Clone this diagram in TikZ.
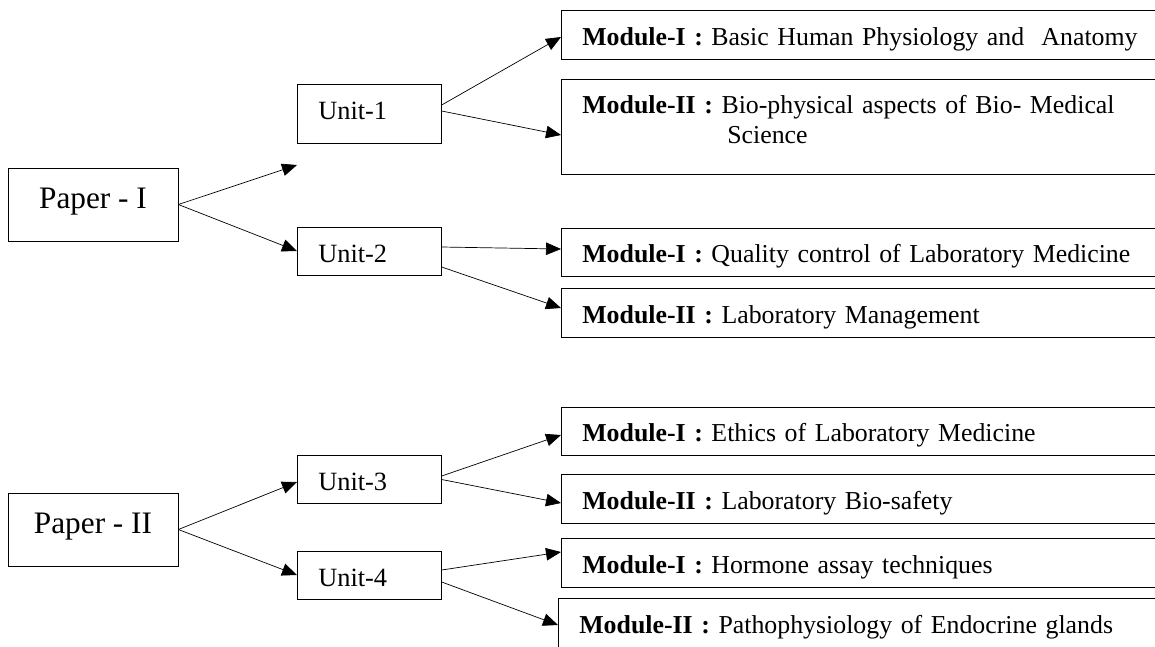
\documentclass[tikz,border=0pt]{standalone}
\usepackage{fontspec}
\setmainfont{Liberation Serif}
\usetikzlibrary{arrows.meta}
\tikzset{
    ->, >={Triangle[length=0.3cm, width=0.25cm]},
    line width=1pt,
    every node/.style={font=\fontsize{15}{17.6}\selectfont},
    paper/.style={draw, minimum width=3.4cm, minimum height=1.46cm, inner ysep=0pt,
        text height=0.4cm, text depth=0.26cm, font=\fontsize{17.8}{21}\selectfont},
    unit/.style={draw, anchor=west, text width=2.04cm, align=left, inner xsep=0.42cm,
        inner ysep=0pt, minimum height=0.96cm, text height=0.5cm, text depth=0.06cm},
    module/.style={draw, anchor=west, text width=12cm, align=left, inner xsep=0.42cm,
        inner ysep=0pt, minimum height=0.97cm, text height=0.45cm, text depth=0.05cm,
        font=\fontsize{14.7}{17.6}\selectfont},
}

\begin{document}
\begin{tikzpicture}[x=0.02cm, y=-0.02cm]
\useasboundingbox (0,0) rectangle (1155,646);
\clip (0,0) rectangle (1155,646);

% papers
\node[paper] (p1) at (93,204.5) {Paper - I};
\node[paper] (p2) at (93,529.5) {Paper - II};

% units
\node[unit, minimum height=1.18cm, text height=0.4cm, text depth=0.16cm] (u1) at (297,113.5) {Unit-1};
\node[unit] (u2) at (297,251) {Unit-2};
\node[unit] (u3) at (297,479.5) {Unit-3};
\node[unit] (u4) at (297,575) {Unit-4};
\coordinate (gap) at (297,165);

% modules
\node[module] (m1) at (561,35) {\textbf{Module-I :} Basic Human Physiology and \ Anatomy};
\node[module, text height=0.68cm, text depth=1.22cm] (m2) at (561,126.5)
    {\textbf{Module-II :} Bio-physical aspects of Bio- Medical\\\hspace*{2.9cm}Science};
\node[module] (m3) at (561,252.5) {\textbf{Module-I :} Quality control of Laboratory Medicine};
\node[module] (m4) at (561,313) {\textbf{Module-II :} Laboratory Management};
\node[module] (m5) at (561,431.5) {\textbf{Module-I :} Ethics of Laboratory Medicine};
\node[module] (m6) at (561,499) {\textbf{Module-II :} Laboratory Bio-safety};
\node[module] (m7) at (561,563) {\textbf{Module-I :} Hormone assay techniques};
\node[module] (m8) at (558,623) {\textbf{Module-II :} Pathophysiology of Endocrine glands};

\draw (p1.east) -- (gap);
\draw (p1.east) -- (u2.west);
\draw (p2.east) -- ([yshift=-0.05cm]u3.west);
\draw (p2.east) -- (u4.west);

\draw ([yshift=0.17cm]u1.east) -- ([yshift=-0.04cm]m1.west);
\draw ([yshift=0.05cm]u1.east) -- ([yshift=-0.17cm]m2.west);
\draw ([yshift=0.08cm]u2.east) -- ([yshift=0.07cm]m3.west);
\draw ([yshift=-0.32cm]u2.east) -- ([yshift=0.1cm]m4.west);
\draw ([yshift=0.07cm]u3.east) -- ([yshift=-0.07cm]m5.west);
\draw (u3.east) -- ([yshift=-0.08cm]m6.west);
\draw ([yshift=0.1cm]u4.east) -- ([yshift=0.22cm]m7.west);
\draw ([yshift=-0.14cm]u4.east) -- ([yshift=-0.04cm]m8.west);

\end{tikzpicture}
\end{document}
